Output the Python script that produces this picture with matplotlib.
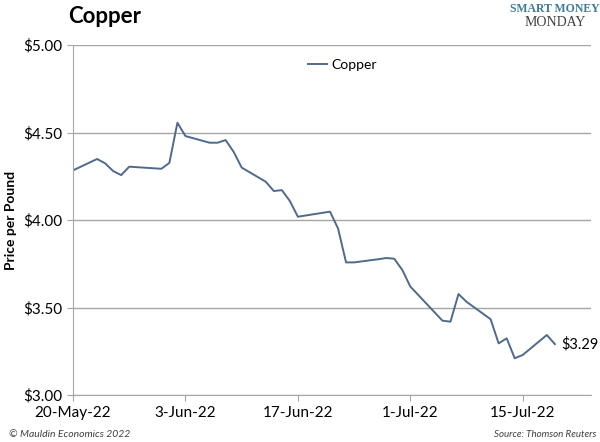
import matplotlib.pyplot as plt
import matplotlib.dates as mdates
import numpy as np
import datetime as dt

plt.rcParams['font.family'] = ['Lato', 'DejaVu Sans']

# Цена меди, долл. за фунт (торговые дни)
dates = ["2022-05-20", "2022-05-23", "2022-05-24", "2022-05-25", "2022-05-26", "2022-05-27",
         "2022-05-31", "2022-06-01", "2022-06-02", "2022-06-03",
         "2022-06-06", "2022-06-07", "2022-06-08", "2022-06-09", "2022-06-10",
         "2022-06-13", "2022-06-14", "2022-06-15", "2022-06-16", "2022-06-17",
         "2022-06-21", "2022-06-22", "2022-06-23", "2022-06-24",
         "2022-06-27", "2022-06-28", "2022-06-29", "2022-06-30", "2022-07-01",
         "2022-07-05", "2022-07-06", "2022-07-07", "2022-07-08",
         "2022-07-11", "2022-07-12", "2022-07-13", "2022-07-14", "2022-07-15",
         "2022-07-18", "2022-07-19"]
prices = [4.284, 4.349, 4.324, 4.280, 4.257, 4.305,
          4.293, 4.327, 4.556, 4.480,
          4.442, 4.442, 4.457, 4.390, 4.300,
          4.219, 4.166, 4.171, 4.109, 4.019,
          4.048, 3.952, 3.758, 3.758,
          3.776, 3.783, 3.779, 3.715, 3.620,
          3.425, 3.419, 3.577, 3.533,
          3.433, 3.295, 3.324, 3.210, 3.229,
          3.343, 3.291]
tick_dates = ["2022-05-20", "2022-06-03", "2022-06-17", "2022-07-01", "2022-07-15"]
tick_labels = ["20-May-22", "3-Jun-22", "17-Jun-22", "1-Jul-22", "15-Jul-22"]
y_ticks = [3.0, 3.5, 4.0, 4.5, 5.0]

x = [dt.datetime.strptime(d, "%Y-%m-%d") for d in dates]
xt = [dt.datetime.strptime(d, "%Y-%m-%d") for d in tick_dates]

fig = plt.figure(figsize=(6, 4.42), dpi=100)
ax = fig.add_axes([0.1217, 0.1063, 0.8633, 0.7917])

grey = "#a6a6a6"
ax.plot(x, prices, color="#4f6a8c", lw=1.4, label="Copper")

start = x[0]
ax.set_xlim(start, start + dt.timedelta(days=64.5))
ax.set_ylim(3.0, 5.0)
ax.set_yticks(y_ticks)
ax.set_yticklabels(["$%.2f" % v for v in y_ticks])
ax.set_xticks(xt)
ax.set_xticklabels(tick_labels)
ax.yaxis.grid(True, color=grey, lw=1)
ax.set_axisbelow(True)
for s in ["top", "right"]:
    ax.spines[s].set_visible(False)
for s in ["left", "bottom"]:
    ax.spines[s].set_color(grey)
ax.tick_params(axis="both", colors=grey, length=4, labelcolor="black", labelsize=11)
ax.tick_params(axis="x", pad=4)

fig.text(0.018, 0.502, "Price per Pound", fontsize=10, fontweight="bold",
         rotation=90, ha="center", va="center")

ax.legend(loc="upper center", bbox_to_anchor=(0.52, 0.995), frameon=False,
          fontsize=10, handlelength=1.4, handletextpad=0.3)

ax.annotate("$%.2f" % prices[-1], (x[-1], prices[-1]), xytext=(5, 0),
            textcoords="offset points", va="center", ha="left", fontsize=10.5)

fig.text(0.113, 0.963, "Copper", fontsize=16, fontweight="bold", va="center")
fig.text(0.925, 0.979, "SMART MONEY", fontsize=8.5, fontweight="bold", color="#3d7b9a",
         family="Liberation Serif", ha="center", va="center")
fig.text(0.925, 0.950, "MONDAY", fontsize=10, color="#404040",
         family="Liberation Serif", ha="center", va="center")
fig.text(0.015, 0.018, "© Mauldin Economics 2022", fontsize=7.5, style="italic",
         color="#404040", va="center")
fig.text(0.994, 0.018, "Source: Thomson Reuters", fontsize=7, style="italic",
         color="#404040", va="center", ha="right")

fig.savefig("out.png", dpi=100)
